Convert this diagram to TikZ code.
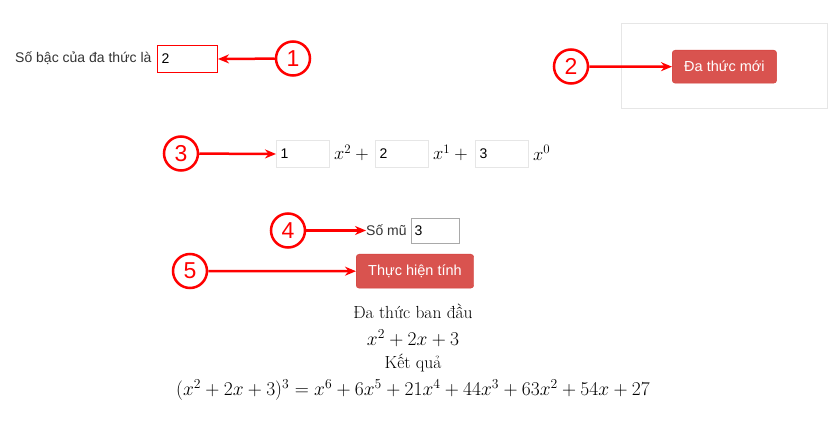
\documentclass[tikz,border=0pt]{standalone}
\usepackage{fix-cm}
\usepackage{fontspec}
\usepackage{amsmath}
\newfontfamily\uifont{Liberation Sans}
\usetikzlibrary{arrows.meta}
\definecolor{btnred}{HTML}{D9534F}
\definecolor{btnedge}{HTML}{D43F3A}
\definecolor{paleedge}{HTML}{E6E6E6}
\definecolor{greyedge}{HTML}{A9A9A9}
\definecolor{uitext}{HTML}{333333}
\tikzset{
  uitxt/.style={font=\uifont\fontsize{14}{16}\selectfont,text=uitext,inner sep=0pt},
  inbox/.style={draw=paleedge,line width=1pt,minimum height=27pt,text width=46pt,
    inner xsep=4pt,align=left,anchor=north west,font=\uifont\fontsize{14}{16}\selectfont},
  btn/.style={fill=btnred,draw=btnedge,rounded corners=3pt,text=white,minimum height=33pt,
    inner xsep=12pt,anchor=north west,font=\uifont\fontsize{14.5}{16}\selectfont},
  callout/.style={circle,draw=red,line width=2.5pt,minimum size=34pt,inner sep=0pt,
    text=red,font=\uifont\fontsize{23}{25}\selectfont},
  arr/.style={-{Stealth[length=11pt,width=9pt]},line width=2.5pt,red},
  mth/.style={inner sep=0pt,font=\fontsize{18.5}{20}\selectfont},
  res/.style={inner sep=0pt,font=\fontsize{17.5}{20}\selectfont},
  resmath/.style={inner sep=0pt,font=\fontsize{19.5}{22}\selectfont}
}
\begin{document}
\begin{tikzpicture}[x=1pt,y=-1pt]
    \useasboundingbox (0,0) rectangle (833,430);

    % degree input
    \node[uitxt,anchor=west](deglbl) at (15,58) {Số bậc của đa thức là};
    \node[inbox,draw=red,text width=52pt](degbox) at (157,45) {2};
    \node[callout](c1) at (293,58.5) {1};
    \draw[arr](c1)--(degbox.east);

    % new polynomial panel
    \draw[paleedge,line width=1pt](621,24) rectangle (827,109);
    \node[btn](newbtn) at (672,50) {Đa thức mới};
    \node[callout](c2) at (571,66.5) {2};
    \draw[arr](c2)--(newbtn.west);

    % coefficients
    \node[inbox,text width=45pt](coefa) at (276,140) {1};
    \node[mth,anchor=west](terma) at (334,153) {$x^{2}+{}$};
    \node[inbox,text width=45pt](coefb) at (375,140) {2};
    \node[mth,anchor=west](termb) at (433,153) {$x^{1}+{}$};
    \node[inbox,text width=45pt](coefc) at (475,140) {3};
    \node[mth,anchor=west](termc) at (533,153) {$x^{0}$};
    \node[callout](c3) at (181,153.5) {3};
    \draw[arr](c3)--(coefa.west);

    % exponent
    \node[uitxt,anchor=west](explbl) at (366,230.5) {Số mũ};
    \node[inbox,draw=greyedge,minimum height=25pt,text width=42pt,inner xsep=3pt](expbox) at (411,218) {3};
    \node[callout](c4) at (288,230.5) {4};
    \draw[arr](c4)--(explbl.west);

    % compute button
    \node[btn,minimum height=34pt](runbtn) at (356,254) {Thực hiện tính};
    \node[callout](c5) at (190,271) {5};
    \draw[arr](c5)--(runbtn.west);

    % result
    \node[res](orig) at (413,311) {Đa thức ban đầu};
    \node[resmath](origpoly) at (413,338) {$x^{2}+2x+3$};
    \node[res](reslbl) at (413,363) {Kết quả};
    \node[resmath](respoly) at (413,390) {$(x^{2}+2x+3)^{3}=x^{6}+6x^{5}+21x^{4}+44x^{3}+63x^{2}+54x+27$};
  \end{tikzpicture}
\end{document}
